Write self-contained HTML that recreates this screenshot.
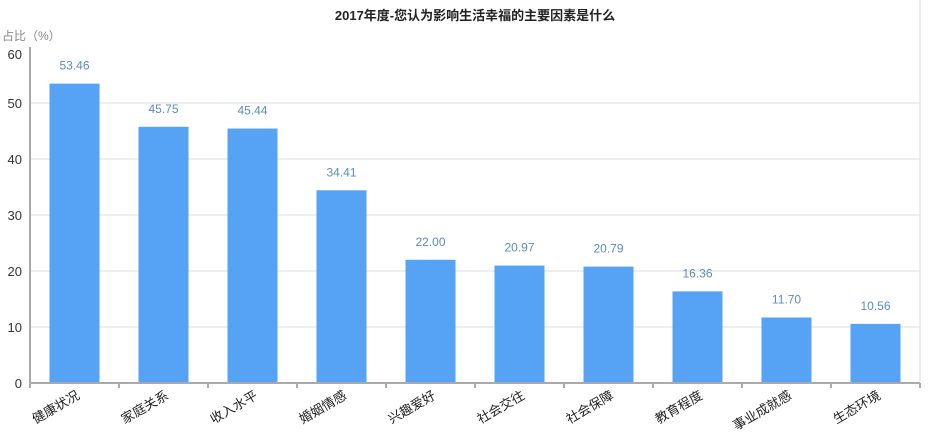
<!DOCTYPE html>
<html><head><meta charset="utf-8"><style>
body{margin:0;background:#fff;}
svg{display:block;font-family:"Liberation Sans","Noto Sans CJK SC",sans-serif;}
</style></head><body>
<svg id="chart" width="950" height="446">
<text x="475" y="20" text-anchor="middle" font-size="13" font-weight="bold" fill="#222">2017年度-您认为影响生活幸福的主要因素是什么</text>
<text x="2" y="40" font-size="12" fill="#888">占比（%）</text>
<g id="grid"></g><g id="bars"></g><g id="axes"></g>
</svg>
<script>
const categories=["健康状况","家庭关系","收入水平","婚姻情感","兴趣爱好","社会交往","社会保障","教育程度","事业成就感","生态环境"];
const values=[53.46,45.75,45.44,34.41,22.00,20.97,20.79,16.36,11.70,10.56];
const yTicks=[0,10,20,30,40,50,60];
const NS="http://www.w3.org/2000/svg";
const svg=document.getElementById('chart');
const x0=30,x1=920,yBase=383,perUnit=5.6;
const bw=(x1-x0)/categories.length;
function y(v){return yBase-v*perUnit;}
function xc(i){return x0+bw*i+bw/2;}
function mk(tag,attrs,parent){const e=document.createElementNS(NS,tag);for(const k in attrs)e.setAttribute(k,attrs[k]);document.getElementById(parent)?document.getElementById(parent).appendChild(e):svg.appendChild(e);return e;}
yTicks.forEach(t=>{
  if(t>0&&t<60){const l=mk('line',{x1:x0,x2:x1,y1:y(t),y2:y(t),stroke:'#ddd','stroke-width':1},'grid');
  
  }
  const tx=mk('text',{x:22,y:(t===60?y(t)+12:y(t)+5),'text-anchor':'end','font-size':13,fill:'#333'},'axes');
  tx.textContent=t;
  
  
});
values.forEach((v,i)=>{
  const r=mk('rect',{x:xc(i)-25,y:y(v),width:50,height:yBase-y(v),fill:'#56a3f5'},'bars');
  
  
  const t=mk('text',{x:xc(i),y:y(v)-14,'text-anchor':'middle','font-size':12,fill:'#5b8cbd'},'bars');
  t.textContent=v.toFixed(2);
  
  
  const c=mk('text',{transform:'translate('+(xc(i)+6)+',398) rotate(-30)','text-anchor':'end','font-size':13,fill:'#222'},'axes');
  c.textContent=categories[i];
  
  
});
for(let i=0;i<=categories.length;i++){
  const tk=mk('line',{x1:x0+bw*i,x2:x0+bw*i,y1:yBase,y2:yBase+5,stroke:'#555','stroke-width':1},'axes');
  
  
}
const ya=mk('line',{x1:x0,x2:x0,y1:47,y2:yBase,stroke:'#aaa','stroke-width':2},'axes');


const rb=mk('line',{x1:x1,x2:x1,y1:0,y2:yBase,stroke:'#ddd','stroke-width':1},'axes');


const xa=mk('line',{x1:x0,x2:x1,y1:yBase,y2:yBase,stroke:'#aaa','stroke-width':2},'axes');


</script>
</body></html>
